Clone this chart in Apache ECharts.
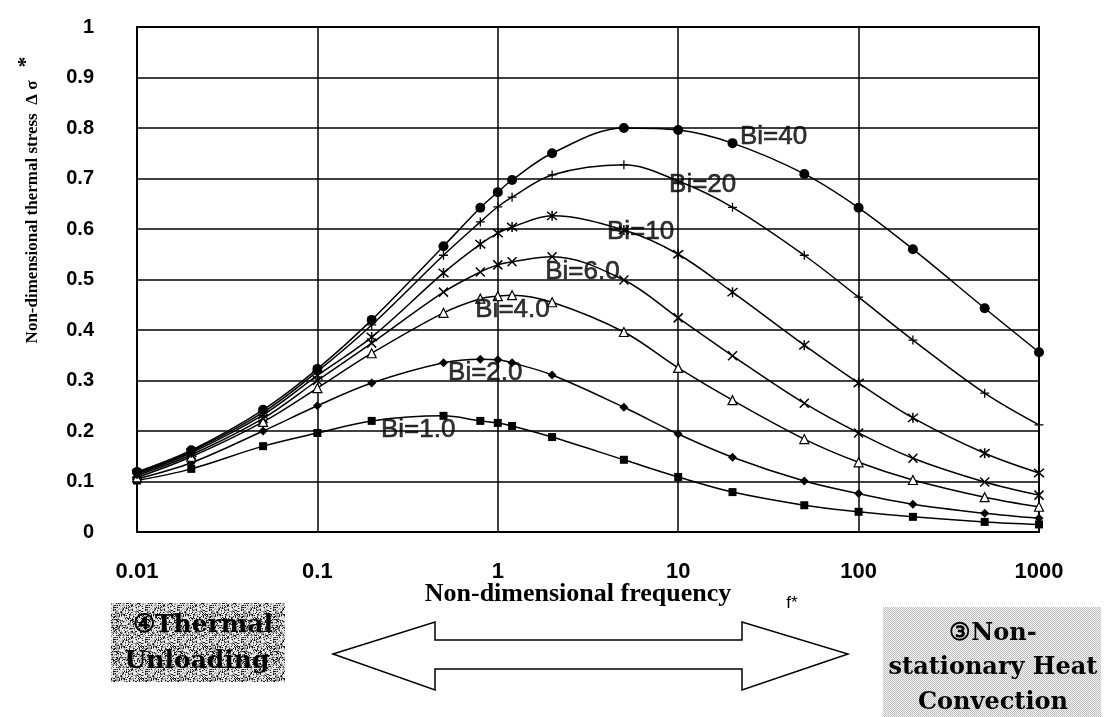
<!DOCTYPE html>
<html><head><meta charset="utf-8">
<script src="https://cdn.jsdelivr.net/npm/echarts@6/dist/echarts.min.js"></script>
<style>html,body{margin:0;padding:0;background:#fff}#c{width:1107px;height:717px}</style>
</head><body><div id="c"></div>
<script>
// ---- data ----
const freq = [0.01,0.02,0.05,0.1,0.2,0.5,0.8,1,1.2,2,5,10,20,50,100,200,500,1000];
const bi40 = [0.119,0.162,0.242,0.323,0.420,0.566,0.642,0.673,0.697,0.750,0.800,0.796,0.770,0.709,0.642,0.560,0.443,0.356];
const bi20 = [0.117,0.160,0.237,0.318,0.410,0.548,0.614,0.644,0.663,0.707,0.727,0.695,0.643,0.548,0.465,0.380,0.275,0.212];
const bi10 = [0.115,0.157,0.232,0.310,0.386,0.513,0.570,0.592,0.604,0.626,0.598,0.550,0.475,0.370,0.295,0.226,0.156,0.117];
const bi6  = [0.112,0.153,0.225,0.300,0.374,0.475,0.515,0.529,0.535,0.545,0.499,0.424,0.349,0.255,0.196,0.146,0.099,0.073];
const bi4  = [0.108,0.149,0.218,0.285,0.354,0.434,0.462,0.467,0.469,0.455,0.396,0.325,0.261,0.184,0.138,0.103,0.069,0.050];
const bi2  = [0.105,0.137,0.200,0.250,0.295,0.335,0.342,0.341,0.335,0.311,0.247,0.194,0.148,0.101,0.076,0.055,0.037,0.027];
const bi1  = [0.102,0.125,0.170,0.196,0.220,0.230,0.220,0.216,0.210,0.188,0.143,0.109,0.079,0.053,0.040,0.030,0.020,0.015];
const seriesNames = ['Bi=1.0','Bi=2.0','Bi=4.0','Bi=6.0','Bi=10','Bi=20','Bi=40'];
const xTickLabels = ['0.01','0.1','1','10','100','1000'];
// curve annotations (data coordinates of the left/middle of each label)
const labelNames = ['Bi=40','Bi=20','Bi=10','Bi=6.0','Bi=4.0','Bi=2.0','Bi=1.0'];
const labelX = [22.0, 8.9, 4.03, 1.83, 0.75, 0.53, 0.225];
const labelY = [0.782, 0.687, 0.594, 0.515, 0.44, 0.315, 0.202];

// ---- styles ----
const seriesData = [bi1, bi2, bi4, bi6, bi10, bi20, bi40];
const symbols = [
  {symbol:'rect', size:8, fill:'#000', bw:0},
  {symbol:'diamond', size:9, fill:'#000', bw:0},
  {symbol:'triangle', size:9, fill:'#fff', bw:1.2},
  {symbol:'path://M0,0L10,10M10,0L0,10', size:9, fill:'#000', bw:1.5},
  {symbol:'path://M0,0L10,10M10,0L0,10M5,-1L5,11', size:10, fill:'#000', bw:1.5},
  {symbol:'path://M5,0L5,10M0,5L10,5', size:9, fill:'#000', bw:1.3},
  {symbol:'circle', size:10, fill:'#000', bw:0}
];

function makePattern(kind){
  const c = document.createElement('canvas');
  const n = 32; c.width = n; c.height = n;
  const g = c.getContext('2d');
  const img = g.createImageData(n, n);
  let s = kind === 'noise' ? 12345 : 777;
  for (let i = 0; i < n*n; i++) {
    s = (s * 1103515245 + 12345) & 0x7fffffff;
    const r = (s >> 8) % 100;
    let v;
    if (kind === 'noise') {
      v = r < 18 ? 25 : (r < 48 ? 145 : 232);
    } else {
      const x = i % n, y = Math.floor(i / n);
      v = ((x + y) % 2 === 0) ? 188 : 246;
    }
    img.data[i*4] = v; img.data[i*4+1] = v; img.data[i*4+2] = v; img.data[i*4+3] = 255;
  }
  g.putImageData(img, 0, 0);
  return {image: c, repeat: 'repeat'};
}

const chart = echarts.init(document.getElementById('c'), null, {renderer:'canvas'});
const series = seriesData.map((d, k) => ({
  name: seriesNames[k],
  type: 'line',
  smooth: 0.35,
  data: freq.map((f, i) => [f, d[i]]),
  symbol: symbols[k].symbol,
  symbolSize: symbols[k].size,
  showAllSymbol: true,
  lineStyle: {color:'#000', width:1.5},
  itemStyle: {color: symbols[k].fill, borderColor:'#000', borderWidth: symbols[k].bw},
  z: 3
}));
series.push({
  type: 'scatter',
  symbolSize: 0,
  data: labelNames.map((n, i) => ({name: n, value: [labelX[i], labelY[i]]})),
  label: {show:true, position:'right', distance:0, formatter: p => p.name,
          fontFamily:'Liberation Sans, Arial, sans-serif', fontSize:26, color:'#000',
          textBorderColor:'#000', textBorderWidth:0.6,
          align:'left', verticalAlign:'middle'},
  z: 5
});

const serif = '"Liberation Serif","Times New Roman",serif';
const boxFont = '"DejaVu Serif",serif';
chart.setOption({
  animation: false,
  backgroundColor: '#fff',
  grid: {left:137, right:68, top:27, bottom:185, show:true, borderColor:'#000', borderWidth:2},
  xAxis: {
    type:'log', logBase:10, min:0.01, max:1000,
    axisLine:{show:true, lineStyle:{color:'#000', width:2}},
    axisTick:{show:false},
    splitLine:{show:true, lineStyle:{color:'#000', width:1.5}},
    minorSplitLine:{show:false},
    axisLabel:{margin:29, fontFamily:'Liberation Sans, Arial, sans-serif', fontWeight:'bold', fontSize:22, color:'#000',
      formatter:(v, i) => xTickLabels[i] !== undefined ? xTickLabels[i] : ''}
  },
  yAxis: {
    type:'value', min:0, max:1, interval:0.1,
    axisLine:{show:true, lineStyle:{color:'#000', width:2}},
    axisTick:{show:false},
    splitLine:{show:true, lineStyle:{color:'#000', width:1.5}},
    axisLabel:{margin:43, fontFamily:'Liberation Sans, Arial, sans-serif', fontWeight:'bold', fontSize:20, color:'#000',
      formatter: v => String(Math.round(v*10)/10)}
  },
  series: series,
  graphic: [
    {type:'text', x:33, y:212, rotation:Math.PI/2,
     style:{text:'Non-dimensional thermal stress  Δ σ', font:'bold 17px '+serif, fill:'#000', align:'center', verticalAlign:'middle'}},
    {type:'text', x:26, y:62, rotation:Math.PI/2,
     style:{text:'*', font:'bold 22px '+serif, fill:'#000', align:'center', verticalAlign:'middle'}},
    {type:'text', x:578, y:594,
     style:{text:'Non-dimensional frequency', font:'bold 26px '+serif, fill:'#000', align:'center', verticalAlign:'middle'}},
    {type:'text', x:792, y:603,
     style:{text:'f*', font:'17px Liberation Sans, Arial, sans-serif', fill:'#000', align:'center', verticalAlign:'middle'}},
    {type:'rect', shape:{x:111, y:603, width:174, height:79}, style:{fill: makePattern('noise')}},
    {type:'text', x:203, y:625,
     style:{text:'④Thermal', font:'bold 25px '+boxFont, fill:'#000', align:'center', verticalAlign:'middle'}},
    {type:'text', x:197, y:661,
     style:{text:'Unloading', font:'bold 25px '+boxFont, fill:'#000', align:'center', verticalAlign:'middle'}},
    {type:'rect', shape:{x:883, y:607, width:218, height:110}, style:{fill: makePattern('dots')}},
    {type:'text', x:993, y:634,
     style:{text:'③Non-', font:'bold 24px '+boxFont, fill:'#000', align:'center', verticalAlign:'middle'}},
    {type:'text', x:993, y:668,
     style:{text:'stationary Heat', font:'bold 24px '+boxFont, fill:'#000', align:'center', verticalAlign:'middle'}},
    {type:'text', x:993, y:703,
     style:{text:'Convection', font:'bold 24px '+boxFont, fill:'#000', align:'center', verticalAlign:'middle'}},
    {type:'polygon', shape:{points:[[333,654],[435,622],[435,640],[742,640],[742,622],[848,654],[742,690],[742,669],[435,669],[435,690]]},
     style:{fill:'#fff', stroke:'#000', lineWidth:1.5}}
  ]
});
</script></body></html>
